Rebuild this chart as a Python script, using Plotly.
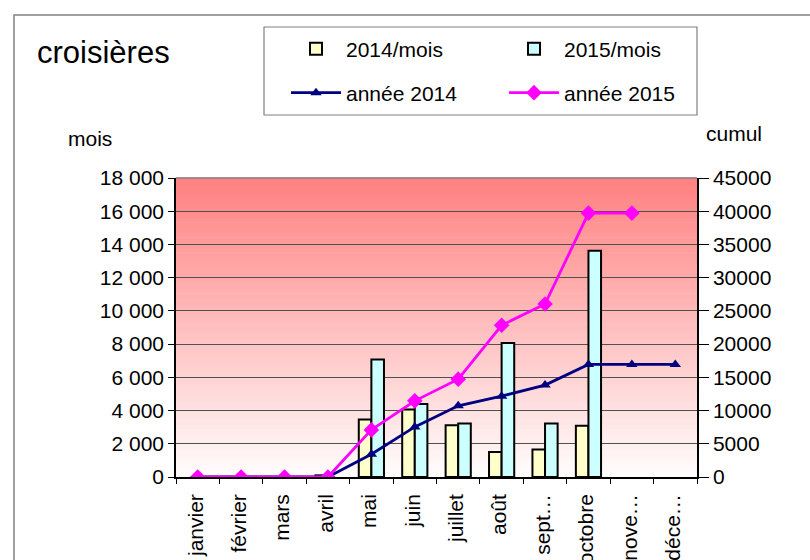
import plotly.graph_objects as go

months = ["janvier", "février", "mars", "avril", "mai", "juin", "juillet",
          "août", "sept…", "octobre", "nove…", "déce…"]
mois_2014 = [None, None, None, 100, 3460, 4060, 3120, 1510, 1650, 3080, None, None]
mois_2015 = [None, None, None, None, 7080, 4390, 3220, 8070, 3220, 13620, None, None]
cumul_2014 = [0, 0, 0, 0, 3420, 7540, 10710, 12170, 13830, 16940, 16940, 16940]
cumul_2015 = [0, 0, 0, 0, 7090, 11460, 14730, 22830, 26040, 39720, 39720, None]
left_ticks = [0, 2000, 4000, 6000, 8000, 10000, 12000, 14000, 16000, 18000]
left_labels = ["0", "2 000", "4 000", "6 000", "8 000", "10 000", "12 000",
               "14 000", "16 000", "18 000"]

FONT = "Arial, 'Liberation Sans', sans-serif"
FS = 21
W, H = 810, 560
L, R, T, B = 176, 697, 178, 477

def px(x):
    return (x - L) / (R - L)

def py(y):
    return (B - y) / (B - T)

fig = go.Figure()
fig.add_trace(go.Bar(x=months, y=mois_2014, name="2014/mois",
                     marker=dict(color="#FFFFCC", line=dict(color="black", width=2)),
                     legend="legend"))
fig.add_trace(go.Bar(x=months, y=mois_2015, name="2015/mois",
                     marker=dict(color="#CCFFFF", line=dict(color="black", width=2)),
                     legend="legend"))
fig.add_trace(go.Scatter(x=months, y=cumul_2014, name="année 2014", yaxis="y2",
                         mode="lines+markers",
                         line=dict(color="#000080", width=2.8),
                         marker=dict(symbol="triangle-up", size=10, color="#000080"),
                         legend="legend2"))
fig.add_trace(go.Scatter(x=months, y=cumul_2015, name="année 2015", yaxis="y2",
                         mode="lines+markers",
                         line=dict(color="#FF00FF", width=2.8),
                         marker=dict(symbol="diamond", size=12, color="#FF00FF"),
                         legend="legend2"))

# gradient background of plot area
shapes = []
N = 80
top = (255, 128, 128)
bot = (255, 253, 253)
for i in range(N):
    f = (i + 0.5) / N  # 0 bottom -> 1 top
    c = tuple(round(bot[k] + (top[k] - bot[k]) * f) for k in range(3))
    shapes.append(dict(type="rect", xref="paper", yref="paper",
                       x0=0, x1=1, y0=i / N, y1=(i + 1) / N + 0.002,
                       fillcolor="rgb(%d,%d,%d)" % c, line=dict(width=0),
                       layer="below"))
# plot area top border
shapes.append(dict(type="line", xref="paper", yref="paper", x0=0, x1=1, y0=1, y1=1,
                   line=dict(color="#808080", width=1.5)))
# outer chart border
shapes.append(dict(type="rect", xref="paper", yref="paper",
                   x0=px(14), x1=px(830), y0=py(580), y1=py(15),
                   line=dict(color="#808080", width=1.5), fillcolor="rgba(0,0,0,0)"))
# legend box
shapes.append(dict(type="rect", xref="paper", yref="paper",
                   x0=px(264), x1=px(697), y0=py(115), y1=py(27),
                   line=dict(color="#808080", width=1.2), fillcolor="rgba(0,0,0,0)"))

annotations = [
    dict(text="croisières", xref="paper", yref="paper", x=px(35), y=py(52),
         xanchor="left", yanchor="middle", showarrow=False,
         font=dict(size=31, color="black", family=FONT)),
    dict(text="mois", xref="paper", yref="paper", x=px(66), y=py(138),
         xanchor="left", yanchor="middle", showarrow=False,
         font=dict(size=FS, color="black", family=FONT)),
    dict(text="cumul", xref="paper", yref="paper", x=px(704), y=py(133),
         xanchor="left", yanchor="middle", showarrow=False,
         font=dict(size=FS, color="black", family=FONT)),
]

fig.update_layout(
    width=W, height=H,
    margin=dict(l=L, r=W - R, t=T, b=H - B, pad=0, autoexpand=False),
    paper_bgcolor="white", plot_bgcolor="white",
    font=dict(family=FONT, size=FS, color="black"),
    barmode="group", bargap=0.42, bargroupgap=0,
    shapes=shapes, annotations=annotations,
    showlegend=True,
    legend=dict(orientation="h", x=px(286), y=py(49), xanchor="left", yanchor="middle",
                bgcolor="rgba(0,0,0,0)", borderwidth=0, entrywidth=153,
                font=dict(size=FS, family=FONT), itemwidth=50, tracegroupgap=0),
    legend2=dict(orientation="h", x=px(286), y=py(93), xanchor="left", yanchor="middle",
                 bgcolor="rgba(0,0,0,0)", borderwidth=0, entrywidth=153,
                 font=dict(size=FS, family=FONT), itemwidth=50, tracegroupgap=0),
    xaxis=dict(type="category", range=[-0.5, len(months) - 0.5], tickangle=-90,
               ticks="outside", tickson="boundaries",
               ticklen=5, tickcolor="black", tickwidth=1, showline=True, linecolor="black",
               linewidth=1.5, showgrid=False, tickfont=dict(size=FS), automargin=False,
               ticklabelshift=-2, ticklabelstandoff=7),
    yaxis=dict(range=[0, 18000], tickvals=left_ticks, ticktext=left_labels,
               ticks="outside", ticklen=6, tickcolor="black", showline=True,
               linecolor="black", linewidth=1.5, showgrid=True, gridcolor="#505050",
               gridwidth=1, zeroline=False, tickfont=dict(size=FS), automargin=False),
    yaxis2=dict(range=[0, 45000], dtick=5000, tickformat=".0f", overlaying="y",
                side="right", ticks="outside", ticklen=10, tickcolor="black",
                showline=True, linecolor="black", linewidth=1.5, showgrid=False,
                zeroline=False, tickfont=dict(size=FS), automargin=False),
)

fig.write_html("out.html", config={"displayModeBar": False},
               post_script="document.body.style.margin='0px';")
